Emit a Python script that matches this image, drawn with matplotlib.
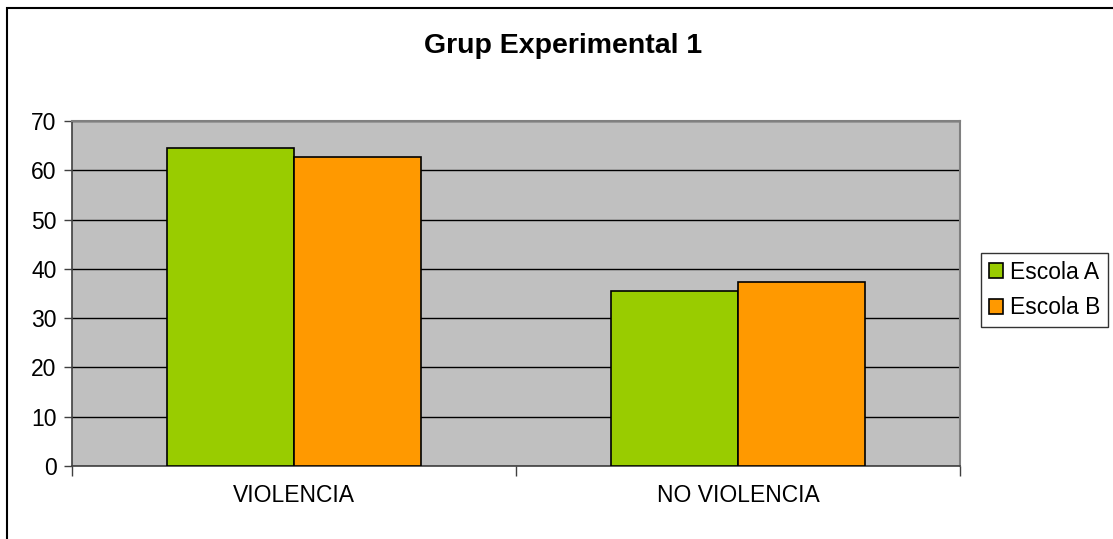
import matplotlib
matplotlib.use("Agg")
import numpy as np
import matplotlib.pyplot as plt
from matplotlib.patches import Rectangle

plt.rcParams['font.family'] = ['Liberation Sans', 'DejaVu Sans']

categories = ['VIOLENCIA', 'NO VIOLENCIA']
escola_a = [64.5, 35.5]
escola_b = [62.6, 37.3]
series_names = ['Escola A', 'Escola B']
colors = ['#99CC00', '#FF9900']

W, H = 1113, 539
fig = plt.figure(figsize=(W / 100.0, H / 100.0), dpi=100)

# outer chart frame
fig.patches.append(Rectangle((7 / W, -0.1), 1.2, 1 - 8 / H + 0.1, transform=fig.transFigure,
                             fill=False, edgecolor='black', linewidth=1.5))

ax = fig.add_axes([72 / W, 1 - 466 / H, (960 - 72) / W, (466 - 121) / H])
ax.set_facecolor('#C0C0C0')

x = np.arange(len(categories))
width = 0.2857
ax.bar(x - width / 2, escola_a, width, color=colors[0], edgecolor='black', linewidth=1.2,
       label=series_names[0], zorder=3)
ax.bar(x + width / 2, escola_b, width, color=colors[1], edgecolor='black', linewidth=1.2,
       label=series_names[1], zorder=3)

ax.set_xlim(-0.5, len(categories) - 0.5)
ax.set_ylim(0, 70)
ax.set_yticks(range(0, 71, 10))
ax.yaxis.grid(True, color='black', linewidth=1.0, zorder=1)

ax.set_xticks(x)
ax.set_xticklabels(categories, fontsize=16.5)
ax.tick_params(axis='x', length=0, pad=13)
ax.set_xticks([-0.5, 0.5, 1.5], minor=True)
ax.tick_params(axis='x', which='minor', length=7, color='#404040', width=1)
ax.tick_params(axis='y', labelsize=16.5, length=6, color='#404040', width=1, pad=5)

for side in ['top', 'right']:
    ax.spines[side].set_color('#808080')
    ax.spines[side].set_linewidth(1.5)
for side in ['left', 'bottom']:
    ax.spines[side].set_color('#404040')
    ax.spines[side].set_linewidth(1.2)

fig.text(563 / W, 1 - 46 / H, 'Grup Experimental 1', ha='center', va='center',
         fontsize=20.5, fontweight='bold')

leg = fig.legend(loc='center left', bbox_to_anchor=(981 / W, 1 - 290 / H), fontsize=16.5,
                 frameon=True, fancybox=False, edgecolor='black', handlelength=0.6,
                 handleheight=0.6, handletextpad=0.3, borderpad=0.35, labelspacing=0.55,
                 borderaxespad=0)
leg.get_frame().set_linewidth(1.0)

fig.savefig('out.png', dpi=100)
